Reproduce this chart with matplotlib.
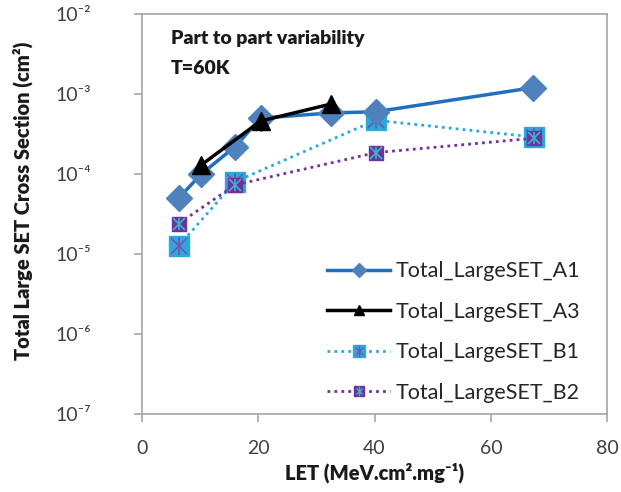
import math
import matplotlib
matplotlib.use("Agg")
import matplotlib.pyplot as plt
from matplotlib.lines import Line2D
from matplotlib.ticker import FixedLocator, FuncFormatter

plt.rcParams["font.family"] = ["Lato", "DejaVu Sans"]

# LET values (MeV.cm2/mg) and cross sections (cm2) per part
let_a1 = [6.3, 10.2, 16.0, 20.4, 32.5, 40.2, 67.2]
sig_a1 = [5.0e-5, 1.0e-4, 2.2e-4, 5.0e-4, 5.8e-4, 6.0e-4, 1.2e-3]

let_a3 = [10.2, 20.4, 32.5]
sig_a3 = [1.3e-4, 4.6e-4, 7.5e-4]

let_b1 = [6.3, 16.0, 40.2, 67.4]
sig_b1 = [1.26e-5, 8.0e-5, 4.7e-4, 2.9e-4]

let_b2 = [6.3, 16.0, 40.2, 67.4]
sig_b2 = [2.4e-5, 7.3e-5, 1.85e-4, 2.8e-4]

series_names = ["Total_LargeSET_A1", "Total_LargeSET_A3",
                "Total_LargeSET_B1", "Total_LargeSET_B2"]

blue_line = "#1F6FBF"
blue_mark = "#4F81BD"
cyan = "#29A9E0"
purple = "#7030A0"
star_on_cyan = "#7E4FA8"
star_on_purple = "#35B8C8"
dots = (0, (1, 1.5))

SUP = str.maketrans("-0123456789", "⁻⁰¹²³⁴⁵⁶⁷⁸⁹")


def pow10_label(v, pos):
    return "10" + str(round(math.log10(v))).translate(SUP)


fig = plt.figure(figsize=(6.21, 4.92), dpi=100)
ax = fig.add_axes([0.2287, 0.1585, 0.749, 0.813])

ax.plot(let_a1, sig_a1, color=blue_line, lw=2.5, marker="D", ms=13,
        mfc=blue_mark, mec=blue_mark, zorder=3)
ax.plot(let_a3, sig_a3, color="black", lw=2.5, marker="^", ms=13,
        mfc="black", mec="black", zorder=4)

# dotted series: square marker with a star drawn on top
ax.plot(let_b1, sig_b1, color=cyan, lw=2, ls=dots, marker="s", ms=14,
        mfc=cyan, mec=cyan, zorder=2)
ax.plot(let_b1, sig_b1, ls="none", marker="x", ms=11, mec=star_on_cyan,
        mew=1.2, zorder=2.5)
ax.plot(let_b1, sig_b1, ls="none", marker="|", ms=13, mec=star_on_cyan,
        mew=1.2, zorder=2.5)

ax.plot(let_b2, sig_b2, color=purple, lw=2, ls=dots, marker="s", ms=10,
        mfc=purple, mec=purple, zorder=2.6)
ax.plot(let_b2, sig_b2, ls="none", marker="x", ms=8, mec=star_on_purple,
        mew=1.2, zorder=2.7)
ax.plot(let_b2, sig_b2, ls="none", marker="|", ms=9, mec=star_on_purple,
        mew=1.2, zorder=2.7)

ax.set_yscale("log")
ax.set_ylim(1e-7, 1e-2)
ax.set_xlim(0, 80)
ax.xaxis.set_major_locator(FixedLocator([0, 20, 40, 60, 80]))
ax.yaxis.set_major_locator(FixedLocator([1e-7, 1e-6, 1e-5, 1e-4, 1e-3, 1e-2]))
ax.yaxis.set_minor_locator(FixedLocator([]))
ax.yaxis.set_major_formatter(FuncFormatter(pow10_label))

for sp in ax.spines.values():
    sp.set_color("#A6A6A6")
    sp.set_linewidth(1.2)
ax.tick_params(axis="both", direction="out", length=6, width=1.2,
               color="#A6A6A6", labelsize=14, labelcolor="#404040")
ax.tick_params(axis="y", pad=31)
ax.tick_params(axis="x", pad=13)

ax.set_xlabel("LET (MeV.cm².mg⁻¹)", fontsize=14.5,
              fontweight="heavy", labelpad=4, color="#1A1A1A")
ax.set_ylabel("Total Large SET Cross Section (cm²)", fontsize=14.5,
              fontweight="heavy", color="#1A1A1A")
ax.yaxis.set_label_coords(-0.235, 0.532)

ax.text(0.062, 0.96, "Part to part variability", transform=ax.transAxes,
        fontsize=14, fontweight="heavy", va="top", color="#1A1A1A")
ax.text(0.062, 0.885, "T=60K", transform=ax.transAxes,
        fontsize=14, fontweight="heavy", va="top", color="#1A1A1A")

# legend keys use smaller markers than the plotted points
k1 = Line2D([], [], color=blue_line, lw=2.5, marker="D", ms=7,
            mfc=blue_mark, mec=blue_mark)
k2 = Line2D([], [], color="black", lw=2.5, marker="^", ms=7,
            mfc="black", mec="black")
k3 = (Line2D([], [], color=cyan, lw=2, ls=dots, marker="s", ms=8,
             mfc=cyan, mec=cyan),
      Line2D([], [], ls="none", marker="x", ms=6, mec=star_on_cyan, mew=1),
      Line2D([], [], ls="none", marker="|", ms=8, mec=star_on_cyan, mew=1))
k4 = (Line2D([], [], color=purple, lw=2, ls=dots, marker="s", ms=7,
             mfc=purple, mec=purple),
      Line2D([], [], ls="none", marker="x", ms=5, mec=star_on_purple, mew=1),
      Line2D([], [], ls="none", marker="|", ms=7, mec=star_on_purple, mew=1))

ax.legend([k1, k2, k3, k4], series_names, loc="lower right",
          bbox_to_anchor=(0.983, -0.02), frameon=False, fontsize=15.5,
          handlelength=2.9, labelspacing=0.95, handletextpad=0.25,
          labelcolor="#262626")

fig.savefig("out.png", dpi=100)
